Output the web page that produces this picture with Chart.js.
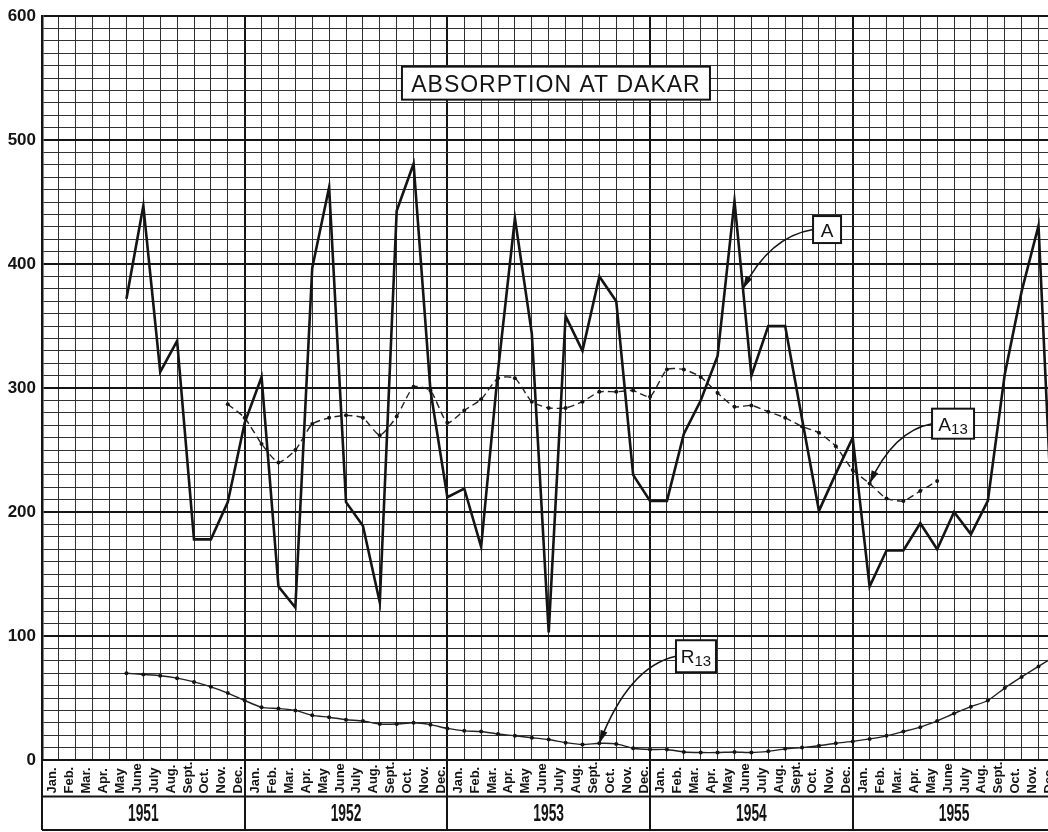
<!DOCTYPE html>
<html>
<head>
<meta charset="utf-8">
<title>Absorption at Dakar</title>
<script src="https://cdn.jsdelivr.net/npm/chart.js@4/dist/chart.umd.min.js"></script>
<style>
  html, body { margin: 0; padding: 0; background: #fff; overflow: hidden; width: 1048px; height: 832px; }
  #wrap { width: 1070px; height: 832px; }
</style>
</head>
<body>
<div id="wrap"><canvas id="c" width="1070" height="832"></canvas></div>
<script>
// Month and year labels for the time axis (Jan 1951 - Dec 1955)
const MONTHS = ['Jan.', 'Feb.', 'Mar.', 'Apr.', 'May', 'June', 'July', 'Aug.', 'Sept.', 'Oct.', 'Nov.', 'Dec.'];
const YEARS = ['1951', '1952', '1953', '1954', '1955'];
const Y_LABELS = [0, 100, 200, 300, 400, 500, 600];

// Monthly absorption A, one value per month, plotted at the end of the month
const absorptionA = [
  null, null, null, null, 372, 447, 313, 338, 178, 178, 208, 272,   // 1951
  309, 140, 123, 397, 462, 208, 189, 127, 443, 481, 298, 212,       // 1952
  219, 172, 314, 437, 344, 103, 358, 330, 390, 370, 230, 209,       // 1953
  209, 263, 290, 326, 451, 310, 350, 350, 275, 201, 231, 260,       // 1954
  140, 169, 169, 191, 170, 200, 182, 209, 311, 378, 431, 135        // 1955
];

// 13-month running mean of A
const runningA13 = [
  null, null, null, null, null, null, null, null, null, null, 287, 276,
  255, 240, 250, 271, 276, 278, 276, 262, 277, 301, 298, 272,
  282, 291, 308, 308, 289, 284, 284, 289, 297, 297, 298, 293,
  315, 315, 309, 296, 285, 286, 281, 276, 269, 264, 253, 234,
  223, 211, 209, 217, 225, null, null, null, null, null, null, null
];

// 13-month running mean R13
const runningR13 = [
  null, null, null, null, 70, 69, 68, 66, 63, 59, 54, 48,
  42.5, 41.5, 40, 36, 34.5, 32.5, 31.5, 29, 29, 30, 28.5, 25.5,
  23.5, 23, 21, 19.5, 18, 16.5, 14, 12.5, 13.5, 13, 9.5, 8.5,
  8.5, 6.5, 6, 6, 6.5, 6, 7, 9, 10, 11.5, 13.5, 15,
  17, 19.5, 23, 26.5, 31.5, 37.5, 43, 48, 58, 67, 75.5, 84
];

// month i is drawn on the grid line that closes that month
const toPoints = arr => arr.map((v, i) => ({ x: i + 1, y: v }));

const INK = '#141414';
const GRID = '#303030';

// Labelled call-outs: box centre and arrow tip in axis units
const callouts = [
  { name: 'A', sub: '', at: [46.48, 427.9], w: 28, h: 27, tip: [41.5, 380] },
  { name: 'A', sub: '13', at: [53.94, 271.3], w: 42, h: 30, tip: [49, runningA13[48]] },
  { name: 'R', sub: '13', at: [38.72, 83.7], w: 40, h: 32, tip: [33, runningR13[32]] }
];
const titleBox = { text: 'ABSORPTION AT DAKAR', at: [30.43, 546], w: 308, h: 33 };

function drawCallout(ctx, xs, ys, c) {
  const bx = xs.getPixelForValue(c.at[0]);
  const by = ys.getPixelForValue(c.at[1]);
  const tx = xs.getPixelForValue(c.tip[0]);
  const ty = ys.getPixelForValue(c.tip[1]);
  const sx = bx - c.w / 2, sy = by;
  const cx = tx + 0.38 * (sx - tx), cy = sy + 0.12 * (ty - sy);
  ctx.strokeStyle = INK;
  ctx.fillStyle = INK;
  ctx.lineWidth = 1.6;
  ctx.beginPath();
  ctx.moveTo(sx, sy);
  ctx.quadraticCurveTo(cx, cy, tx, ty);
  ctx.stroke();
  const ang = Math.atan2(ty - cy, tx - cx);
  const L = 13, W = 3.6;
  const ca = Math.cos(ang), sa = Math.sin(ang);
  ctx.beginPath();
  ctx.moveTo(tx, ty);
  ctx.lineTo(tx - L * ca + W * sa, ty - L * sa - W * ca);
  ctx.lineTo(tx - L * ca - W * sa, ty - L * sa + W * ca);
  ctx.closePath();
  ctx.fill();
  // box
  ctx.fillStyle = '#fff';
  ctx.fillRect(bx - c.w / 2, by - c.h / 2, c.w, c.h);
  ctx.lineWidth = 2;
  ctx.strokeRect(bx - c.w / 2, by - c.h / 2, c.w, c.h);
  ctx.fillStyle = INK;
  ctx.textBaseline = 'alphabetic';
  ctx.textAlign = 'left';
  ctx.font = '19px "Liberation Sans", Arial, sans-serif';
  const mw = ctx.measureText(c.name).width;
  ctx.font = '15px "Liberation Sans", Arial, sans-serif';
  const sw = c.sub ? ctx.measureText(c.sub).width : 0;
  const total = mw + (c.sub ? sw : 0);
  const x0 = bx - total / 2;
  ctx.font = '19px "Liberation Sans", Arial, sans-serif';
  ctx.fillText(c.name, x0, by + 7);
  if (c.sub) {
    ctx.font = '15px "Liberation Sans", Arial, sans-serif';
    ctx.fillText(c.sub, x0 + mw, by + 10);
  }
}

const decorations = {
  id: 'decorations',
  afterDraw(chart) {
    const { ctx, chartArea: ca } = chart;
    const xs = chart.scales.x, ys = chart.scales.y;
    ctx.save();

    // title box
    const tx = xs.getPixelForValue(titleBox.at[0]);
    const ty = ys.getPixelForValue(titleBox.at[1]);
    ctx.fillStyle = '#fff';
    ctx.fillRect(tx - titleBox.w / 2, ty - titleBox.h / 2, titleBox.w, titleBox.h);
    ctx.strokeStyle = INK;
    ctx.lineWidth = 2;
    ctx.strokeRect(tx - titleBox.w / 2, ty - titleBox.h / 2, titleBox.w, titleBox.h);
    ctx.fillStyle = INK;
    ctx.font = '23px "Liberation Sans", Arial, sans-serif';
    ctx.textAlign = 'center';
    ctx.textBaseline = 'alphabetic';
    if ('letterSpacing' in ctx) ctx.letterSpacing = '1px';
    ctx.fillText(titleBox.text, tx, ty + 8.5);
    if ('letterSpacing' in ctx) ctx.letterSpacing = '0px';

    // call-outs
    callouts.forEach(c => drawCallout(ctx, xs, ys, c));

    // month / year table under the plot
    const yTop = ca.bottom, yMid = 796.5, yBot = 830;
    const left = xs.getPixelForValue(0), right = xs.getPixelForValue(60);
    ctx.strokeStyle = INK;
    ctx.lineWidth = 2;
    ctx.beginPath();
    ctx.moveTo(left, yMid); ctx.lineTo(right, yMid);
    ctx.moveTo(left, yBot); ctx.lineTo(right, yBot);
    for (let i = 0; i <= YEARS.length; i++) {
      const px = Math.round(xs.getPixelForValue(i * 12));
      ctx.moveTo(px, yTop); ctx.lineTo(px, yBot);
    }
    ctx.stroke();

    ctx.fillStyle = INK;
    ctx.font = 'bold 13px "Liberation Sans", Arial, sans-serif';
    ctx.textAlign = 'left';
    ctx.textBaseline = 'alphabetic';
    YEARS.forEach((yr, yi) => {
      MONTHS.forEach((mn, mi) => {
        const cx = xs.getPixelForValue(yi * 12 + mi + 0.5);
        ctx.save();
        ctx.translate(cx + 6, yMid - 3);
        ctx.rotate(-Math.PI / 2);
        ctx.fillText(mn, 0, 0);
        ctx.restore();
      });
    });

    ctx.font = 'bold 23px "Liberation Sans", Arial, sans-serif';
    ctx.textAlign = 'center';
    YEARS.forEach((yr, yi) => {
      const cx = xs.getPixelForValue(yi * 12 + 6);
      ctx.save();
      ctx.translate(cx, 820.5);
      ctx.scale(0.6, 1);
      ctx.fillText(yr, 0, 0);
      ctx.restore();
    });
    ctx.restore();
  }
};

new Chart(document.getElementById('c'), {
  type: 'line',
  data: {
    datasets: [
      {
        label: 'A',
        data: toPoints(absorptionA),
        borderColor: INK,
        borderWidth: 2.6,
        pointRadius: 0,
        tension: 0,
        spanGaps: false
      },
      {
        label: 'A13',
        data: toPoints(runningA13),
        borderColor: '#222',
        borderWidth: 1.4,
        borderDash: [7, 4],
        pointRadius: 2,
        pointBorderWidth: 0,
        pointBackgroundColor: INK,
        tension: 0.2,
        spanGaps: false
      },
      {
        label: 'R13',
        data: toPoints(runningR13),
        borderColor: '#222',
        borderWidth: 1.4,
        pointRadius: 2,
        pointBorderWidth: 0,
        pointBackgroundColor: INK,
        tension: 0.2,
        spanGaps: false
      }
    ]
  },
  options: {
    responsive: false,
    animation: false,
    devicePixelRatio: 1,
    layout: { padding: { top: 15, right: 14.6, left: 0, bottom: 0 } },
    plugins: { legend: { display: false }, tooltip: { enabled: false } },
    scales: {
      x: {
        type: 'linear',
        min: 0,
        max: 60,
        ticks: { display: false, stepSize: 1, maxTicksLimit: 1000 },
        grid: {
          drawTicks: false,
          color: c => (c.tick && c.tick.value % 12 === 0) ? INK : GRID,
          lineWidth: c => (c.tick && c.tick.value % 12 === 0) ? 2 : 1
        },
        border: { color: INK, width: 2 },
        afterFit(s) { s.height = 72; }
      },
      y: {
        min: 0,
        max: 600,
        ticks: {
          stepSize: 10,
          maxTicksLimit: 1000,
          autoSkip: false,
          padding: 6,
          color: INK,
          font: { family: '"Liberation Sans", Arial, sans-serif', size: 17, weight: 'bold' },
          callback: v => Y_LABELS.includes(v) ? String(v) : ''
        },
        grid: {
          drawTicks: false,
          color: c => (c.tick && c.tick.value % 100 === 0) ? INK : GRID,
          lineWidth: c => (c.tick && c.tick.value % 100 === 0) ? 2 : 1
        },
        border: { color: INK, width: 2.5 },
        afterFit(s) { s.width = 42; }
      }
    }
  },
  plugins: [decorations]
});
</script>
</body>
</html>
